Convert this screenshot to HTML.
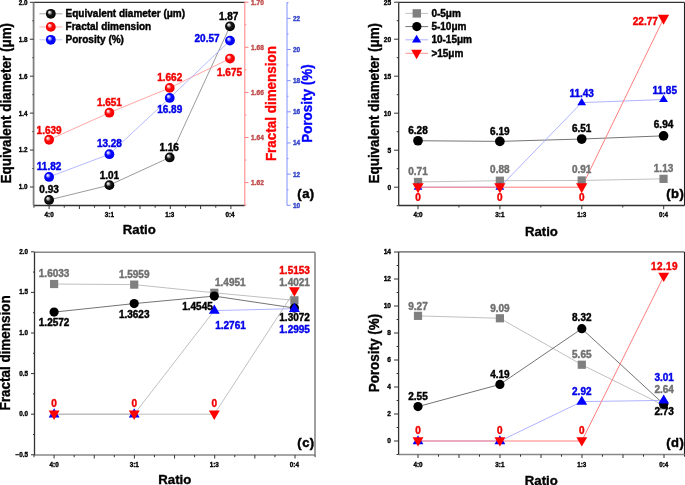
<!DOCTYPE html>
<html><head><meta charset="utf-8"><style>
html,body{margin:0;padding:0;background:#fff;width:685px;height:485px;overflow:hidden}
svg{display:block;will-change:transform}
text{font-family:"Liberation Sans",sans-serif;font-weight:bold}
</style></head><body>
<svg width="685" height="485" viewBox="0 0 685 485">
<defs>
<radialGradient id="gk" cx="0.5" cy="0.5" r="0.5" fx="0.33" fy="0.3">
<stop offset="0" stop-color="#ffffff"/><stop offset="0.2" stop-color="#c8c8c8"/><stop offset="0.5" stop-color="#181818"/><stop offset="1" stop-color="#000"/></radialGradient>
<radialGradient id="gr" cx="0.5" cy="0.5" r="0.5" fx="0.33" fy="0.3">
<stop offset="0" stop-color="#ffffff"/><stop offset="0.2" stop-color="#ffc0c0"/><stop offset="0.5" stop-color="#ff0808"/><stop offset="1" stop-color="#f00000"/></radialGradient>
<radialGradient id="gb" cx="0.5" cy="0.5" r="0.5" fx="0.33" fy="0.3">
<stop offset="0" stop-color="#ffffff"/><stop offset="0.2" stop-color="#c0c0ff"/><stop offset="0.5" stop-color="#0808ff"/><stop offset="1" stop-color="#0000f0"/></radialGradient>
</defs>
<line x1="33.60" y1="2.30" x2="244.80" y2="2.30" stroke="#333" stroke-width="1.3"/>
<line x1="33.60" y1="205.50" x2="244.80" y2="205.50" stroke="#333" stroke-width="1.3"/>
<line x1="33.95" y1="205.50" x2="33.95" y2="207.70" stroke="#333" stroke-width="1.0"/>
<line x1="49.10" y1="205.50" x2="49.10" y2="209.00" stroke="#333" stroke-width="1.0"/>
<line x1="64.25" y1="205.50" x2="64.25" y2="207.70" stroke="#333" stroke-width="1.0"/>
<line x1="79.40" y1="205.50" x2="79.40" y2="209.00" stroke="#333" stroke-width="1.0"/>
<line x1="94.55" y1="205.50" x2="94.55" y2="207.70" stroke="#333" stroke-width="1.0"/>
<line x1="109.70" y1="205.50" x2="109.70" y2="209.00" stroke="#333" stroke-width="1.0"/>
<line x1="124.85" y1="205.50" x2="124.85" y2="207.70" stroke="#333" stroke-width="1.0"/>
<line x1="140.00" y1="205.50" x2="140.00" y2="209.00" stroke="#333" stroke-width="1.0"/>
<line x1="155.15" y1="205.50" x2="155.15" y2="207.70" stroke="#333" stroke-width="1.0"/>
<line x1="170.30" y1="205.50" x2="170.30" y2="209.00" stroke="#333" stroke-width="1.0"/>
<line x1="185.45" y1="205.50" x2="185.45" y2="207.70" stroke="#333" stroke-width="1.0"/>
<line x1="200.60" y1="205.50" x2="200.60" y2="209.00" stroke="#333" stroke-width="1.0"/>
<line x1="215.75" y1="205.50" x2="215.75" y2="207.70" stroke="#333" stroke-width="1.0"/>
<line x1="230.90" y1="205.50" x2="230.90" y2="209.00" stroke="#333" stroke-width="1.0"/>
<text x="49.10" y="216.90" font-size="6.3" fill="#000" stroke="#000" stroke-width="0.35" text-anchor="middle" >4:0</text>
<text x="109.40" y="216.90" font-size="6.3" fill="#000" stroke="#000" stroke-width="0.35" text-anchor="middle" >3:1</text>
<text x="169.70" y="216.90" font-size="6.3" fill="#000" stroke="#000" stroke-width="0.35" text-anchor="middle" >1:3</text>
<text x="230.00" y="216.90" font-size="6.3" fill="#000" stroke="#000" stroke-width="0.35" text-anchor="middle" >0:4</text>
<line x1="33.60" y1="2.30" x2="33.60" y2="205.50" stroke="#808080" stroke-width="1.8"/>
<line x1="33.60" y1="187.00" x2="29.90" y2="187.00" stroke="#333" stroke-width="1.0"/>
<text x="27.60" y="189.40" font-size="6.3" fill="#000" stroke="#000" stroke-width="0.35" text-anchor="end" >1.0</text>
<line x1="33.60" y1="150.06" x2="29.90" y2="150.06" stroke="#333" stroke-width="1.0"/>
<text x="27.60" y="152.46" font-size="6.3" fill="#000" stroke="#000" stroke-width="0.35" text-anchor="end" >1.2</text>
<line x1="33.60" y1="113.12" x2="29.90" y2="113.12" stroke="#333" stroke-width="1.0"/>
<text x="27.60" y="115.52" font-size="6.3" fill="#000" stroke="#000" stroke-width="0.35" text-anchor="end" >1.4</text>
<line x1="33.60" y1="76.18" x2="29.90" y2="76.18" stroke="#333" stroke-width="1.0"/>
<text x="27.60" y="78.58" font-size="6.3" fill="#000" stroke="#000" stroke-width="0.35" text-anchor="end" >1.6</text>
<line x1="33.60" y1="39.24" x2="29.90" y2="39.24" stroke="#333" stroke-width="1.0"/>
<text x="27.60" y="41.64" font-size="6.3" fill="#000" stroke="#000" stroke-width="0.35" text-anchor="end" >1.8</text>
<line x1="33.60" y1="2.30" x2="29.90" y2="2.30" stroke="#333" stroke-width="1.0"/>
<text x="27.60" y="4.70" font-size="6.3" fill="#000" stroke="#000" stroke-width="0.35" text-anchor="end" >2.0</text>
<line x1="33.60" y1="168.53" x2="32.40" y2="168.53" stroke="#333" stroke-width="1.0"/>
<line x1="33.60" y1="131.59" x2="32.40" y2="131.59" stroke="#333" stroke-width="1.0"/>
<line x1="33.60" y1="94.65" x2="32.40" y2="94.65" stroke="#333" stroke-width="1.0"/>
<line x1="33.60" y1="57.71" x2="32.40" y2="57.71" stroke="#333" stroke-width="1.0"/>
<line x1="33.60" y1="20.77" x2="32.40" y2="20.77" stroke="#333" stroke-width="1.0"/>
<line x1="244.80" y1="2.20" x2="244.80" y2="205.50" stroke="#ff8080" stroke-width="1.0"/>
<line x1="244.80" y1="182.60" x2="248.50" y2="182.60" stroke="#ff8080" stroke-width="1.0"/>
<text x="251.10" y="185.00" font-size="6.5" fill="#c04848" stroke="#c04848" stroke-width="0.35" text-anchor="start" >1.62</text>
<line x1="244.80" y1="137.50" x2="248.50" y2="137.50" stroke="#ff8080" stroke-width="1.0"/>
<text x="251.10" y="139.90" font-size="6.5" fill="#c04848" stroke="#c04848" stroke-width="0.35" text-anchor="start" >1.64</text>
<line x1="244.80" y1="92.40" x2="248.50" y2="92.40" stroke="#ff8080" stroke-width="1.0"/>
<text x="251.10" y="94.80" font-size="6.5" fill="#c04848" stroke="#c04848" stroke-width="0.35" text-anchor="start" >1.66</text>
<line x1="244.80" y1="47.30" x2="248.50" y2="47.30" stroke="#ff8080" stroke-width="1.0"/>
<text x="251.10" y="49.70" font-size="6.5" fill="#c04848" stroke="#c04848" stroke-width="0.35" text-anchor="start" >1.68</text>
<line x1="244.80" y1="2.20" x2="248.50" y2="2.20" stroke="#ff8080" stroke-width="1.0"/>
<text x="251.10" y="4.60" font-size="6.5" fill="#c04848" stroke="#c04848" stroke-width="0.35" text-anchor="start" >1.70</text>
<line x1="244.80" y1="205.15" x2="246.30" y2="205.15" stroke="#ff8080" stroke-width="1.0"/>
<line x1="244.80" y1="160.05" x2="246.30" y2="160.05" stroke="#ff8080" stroke-width="1.0"/>
<line x1="244.80" y1="114.95" x2="246.30" y2="114.95" stroke="#ff8080" stroke-width="1.0"/>
<line x1="244.80" y1="69.85" x2="246.30" y2="69.85" stroke="#ff8080" stroke-width="1.0"/>
<line x1="244.80" y1="24.75" x2="246.30" y2="24.75" stroke="#ff8080" stroke-width="1.0"/>
<line x1="287.00" y1="2.20" x2="287.00" y2="205.50" stroke="#8090ff" stroke-width="1.0"/>
<line x1="287.00" y1="205.30" x2="290.70" y2="205.30" stroke="#8090ff" stroke-width="1.0"/>
<text x="293.00" y="207.70" font-size="6.5" fill="#3040c8" stroke="#3040c8" stroke-width="0.35" text-anchor="start" >10</text>
<line x1="287.00" y1="174.14" x2="290.70" y2="174.14" stroke="#8090ff" stroke-width="1.0"/>
<text x="293.00" y="176.54" font-size="6.5" fill="#3040c8" stroke="#3040c8" stroke-width="0.35" text-anchor="start" >12</text>
<line x1="287.00" y1="142.98" x2="290.70" y2="142.98" stroke="#8090ff" stroke-width="1.0"/>
<text x="293.00" y="145.38" font-size="6.5" fill="#3040c8" stroke="#3040c8" stroke-width="0.35" text-anchor="start" >14</text>
<line x1="287.00" y1="111.82" x2="290.70" y2="111.82" stroke="#8090ff" stroke-width="1.0"/>
<text x="293.00" y="114.22" font-size="6.5" fill="#3040c8" stroke="#3040c8" stroke-width="0.35" text-anchor="start" >16</text>
<line x1="287.00" y1="80.66" x2="290.70" y2="80.66" stroke="#8090ff" stroke-width="1.0"/>
<text x="293.00" y="83.06" font-size="6.5" fill="#3040c8" stroke="#3040c8" stroke-width="0.35" text-anchor="start" >18</text>
<line x1="287.00" y1="49.50" x2="290.70" y2="49.50" stroke="#8090ff" stroke-width="1.0"/>
<text x="293.00" y="51.90" font-size="6.5" fill="#3040c8" stroke="#3040c8" stroke-width="0.35" text-anchor="start" >20</text>
<line x1="287.00" y1="18.34" x2="290.70" y2="18.34" stroke="#8090ff" stroke-width="1.0"/>
<text x="293.00" y="20.74" font-size="6.5" fill="#3040c8" stroke="#3040c8" stroke-width="0.35" text-anchor="start" >22</text>
<line x1="287.00" y1="189.72" x2="288.50" y2="189.72" stroke="#8090ff" stroke-width="1.0"/>
<line x1="287.00" y1="158.56" x2="288.50" y2="158.56" stroke="#8090ff" stroke-width="1.0"/>
<line x1="287.00" y1="127.40" x2="288.50" y2="127.40" stroke="#8090ff" stroke-width="1.0"/>
<line x1="287.00" y1="96.24" x2="288.50" y2="96.24" stroke="#8090ff" stroke-width="1.0"/>
<line x1="287.00" y1="65.08" x2="288.50" y2="65.08" stroke="#8090ff" stroke-width="1.0"/>
<line x1="287.00" y1="33.92" x2="288.50" y2="33.92" stroke="#8090ff" stroke-width="1.0"/>
<line x1="287.00" y1="2.76" x2="288.50" y2="2.76" stroke="#8090ff" stroke-width="1.0"/>
<text transform="translate(11.20,103.20) rotate(-90) scale(1,1.05)" font-size="13.45" fill="#000" stroke="#000" stroke-width="0.35" text-anchor="middle">Equivalent diameter (μm)</text>
<text transform="translate(276.20,103.60) rotate(-90) scale(1,1.05)" font-size="13.45" fill="#ff0000" stroke="#ff0000" stroke-width="0.35" text-anchor="middle">Fractal dimension</text>
<text transform="translate(312.30,103.60) rotate(-90) scale(1,1.05)" font-size="13.45" fill="#0000ff" stroke="#0000ff" stroke-width="0.35" text-anchor="middle">Porosity (%)</text>
<text x="139.30" y="234.30" font-size="13.2" fill="#000" stroke="#000" stroke-width="0.35" text-anchor="middle" >Ratio</text>
<text x="306.00" y="198.20" font-size="13" fill="#000" stroke="#000" stroke-width="0.45" text-anchor="middle" letter-spacing="0.5">(a)</text>
<polyline points="49.10,199.93 109.40,185.15 169.70,157.45 230.00,26.31" fill="none" stroke="#707070" stroke-width="0.7"/>
<polyline points="49.10,139.75 109.40,112.69 169.70,87.89 230.00,58.57" fill="none" stroke="#ff9090" stroke-width="0.8"/>
<polyline points="49.10,176.94 109.40,154.20 169.70,97.95 230.00,40.62" fill="none" stroke="#a0a8ff" stroke-width="0.8"/>
<circle cx="49.10" cy="139.75" r="4.9" fill="url(#gr)"/>
<circle cx="109.40" cy="112.69" r="4.9" fill="url(#gr)"/>
<circle cx="169.70" cy="87.89" r="4.9" fill="url(#gr)"/>
<circle cx="230.00" cy="58.57" r="4.9" fill="url(#gr)"/>
<circle cx="49.10" cy="176.94" r="4.9" fill="url(#gb)"/>
<circle cx="109.40" cy="154.20" r="4.9" fill="url(#gb)"/>
<circle cx="169.70" cy="97.95" r="4.9" fill="url(#gb)"/>
<circle cx="230.00" cy="40.62" r="4.9" fill="url(#gb)"/>
<circle cx="49.10" cy="199.93" r="4.9" fill="url(#gk)"/>
<circle cx="109.40" cy="185.15" r="4.9" fill="url(#gk)"/>
<circle cx="169.70" cy="157.45" r="4.9" fill="url(#gk)"/>
<circle cx="230.00" cy="26.31" r="4.9" fill="url(#gk)"/>
<text x="49.10" y="192.70" font-size="10" fill="#000" stroke="#000" stroke-width="0.42" text-anchor="middle" >0.93</text>
<text x="109.40" y="178.80" font-size="10" fill="#000" stroke="#000" stroke-width="0.42" text-anchor="middle" >1.01</text>
<text x="169.20" y="151.20" font-size="10" fill="#000" stroke="#000" stroke-width="0.42" text-anchor="middle" >1.16</text>
<text x="228.70" y="19.70" font-size="10" fill="#000" stroke="#000" stroke-width="0.42" text-anchor="middle" >1.87</text>
<text x="49.10" y="133.60" font-size="10" fill="#f00000" stroke="#f00000" stroke-width="0.42" text-anchor="middle" >1.639</text>
<text x="109.40" y="105.80" font-size="10" fill="#f00000" stroke="#f00000" stroke-width="0.42" text-anchor="middle" >1.651</text>
<text x="169.70" y="80.90" font-size="10" fill="#f00000" stroke="#f00000" stroke-width="0.42" text-anchor="middle" >1.662</text>
<text x="217.00" y="76.20" font-size="10" fill="#f00000" stroke="#f00000" stroke-width="0.42" text-anchor="start" >1.675</text>
<text x="49.10" y="170.20" font-size="10" fill="#0000e8" stroke="#0000e8" stroke-width="0.42" text-anchor="middle" >11.82</text>
<text x="109.40" y="147.30" font-size="10" fill="#0000e8" stroke="#0000e8" stroke-width="0.42" text-anchor="middle" >13.28</text>
<text x="169.70" y="112.50" font-size="10" fill="#0000e8" stroke="#0000e8" stroke-width="0.42" text-anchor="middle" >16.89</text>
<text x="219.60" y="42.00" font-size="10" fill="#0000e8" stroke="#0000e8" stroke-width="0.42" text-anchor="end" >20.57</text>
<line x1="39.40" y1="13.80" x2="62.40" y2="13.80" stroke="#909090" stroke-width="0.8"/>
<circle cx="50.80" cy="13.80" r="4.9" fill="url(#gk)"/>
<text x="65.60" y="17.00" font-size="10" fill="#000" stroke="#000" stroke-width="0.42" text-anchor="start" >Equivalent diameter (μm)</text>
<line x1="39.40" y1="26.90" x2="62.40" y2="26.90" stroke="#ffa0a0" stroke-width="0.8"/>
<circle cx="50.80" cy="26.90" r="4.9" fill="url(#gr)"/>
<text x="65.60" y="30.10" font-size="10" fill="#000" stroke="#000" stroke-width="0.42" text-anchor="start" >Fractal dimension</text>
<line x1="39.40" y1="39.80" x2="62.40" y2="39.80" stroke="#b0b8ff" stroke-width="0.8"/>
<circle cx="50.80" cy="39.80" r="4.9" fill="url(#gb)"/>
<text x="65.60" y="43.00" font-size="10" fill="#000" stroke="#000" stroke-width="0.42" text-anchor="start" >Porosity (%)</text>
<line x1="398.70" y1="2.40" x2="684.50" y2="2.40" stroke="#333" stroke-width="1.3"/>
<line x1="684.50" y1="2.40" x2="684.50" y2="205.50" stroke="#222" stroke-width="1.1"/>
<line x1="398.70" y1="205.50" x2="684.50" y2="205.50" stroke="#333" stroke-width="1.3"/>
<line x1="418.00" y1="205.50" x2="418.00" y2="209.30" stroke="#333" stroke-width="1.0"/>
<line x1="458.95" y1="205.50" x2="458.95" y2="207.50" stroke="#333" stroke-width="1.0"/>
<line x1="499.90" y1="205.50" x2="499.90" y2="209.30" stroke="#333" stroke-width="1.0"/>
<line x1="540.85" y1="205.50" x2="540.85" y2="207.50" stroke="#333" stroke-width="1.0"/>
<line x1="581.80" y1="205.50" x2="581.80" y2="209.30" stroke="#333" stroke-width="1.0"/>
<line x1="622.75" y1="205.50" x2="622.75" y2="207.50" stroke="#333" stroke-width="1.0"/>
<line x1="663.70" y1="205.50" x2="663.70" y2="209.30" stroke="#333" stroke-width="1.0"/>
<text x="418.00" y="217.10" font-size="6.3" fill="#000" stroke="#000" stroke-width="0.35" text-anchor="middle" >4:0</text>
<text x="499.85" y="217.10" font-size="6.3" fill="#000" stroke="#000" stroke-width="0.35" text-anchor="middle" >3:1</text>
<text x="581.70" y="217.10" font-size="6.3" fill="#000" stroke="#000" stroke-width="0.35" text-anchor="middle" >1:3</text>
<text x="663.55" y="217.10" font-size="6.3" fill="#000" stroke="#000" stroke-width="0.35" text-anchor="middle" >0:4</text>
<line x1="398.70" y1="2.40" x2="398.70" y2="205.50" stroke="#333" stroke-width="1.3"/>
<line x1="398.70" y1="187.20" x2="394.10" y2="187.20" stroke="#333" stroke-width="1.0"/>
<text x="391.10" y="189.60" font-size="6.6" fill="#000" stroke="#000" stroke-width="0.35" text-anchor="end" >0</text>
<line x1="398.70" y1="150.20" x2="394.10" y2="150.20" stroke="#333" stroke-width="1.0"/>
<text x="391.10" y="152.60" font-size="6.6" fill="#000" stroke="#000" stroke-width="0.35" text-anchor="end" >5</text>
<line x1="398.70" y1="113.20" x2="394.10" y2="113.20" stroke="#333" stroke-width="1.0"/>
<text x="391.10" y="115.60" font-size="6.6" fill="#000" stroke="#000" stroke-width="0.35" text-anchor="end" >10</text>
<line x1="398.70" y1="76.20" x2="394.10" y2="76.20" stroke="#333" stroke-width="1.0"/>
<text x="391.10" y="78.60" font-size="6.6" fill="#000" stroke="#000" stroke-width="0.35" text-anchor="end" >15</text>
<line x1="398.70" y1="39.20" x2="394.10" y2="39.20" stroke="#333" stroke-width="1.0"/>
<text x="391.10" y="41.60" font-size="6.6" fill="#000" stroke="#000" stroke-width="0.35" text-anchor="end" >20</text>
<line x1="398.70" y1="2.20" x2="394.10" y2="2.20" stroke="#333" stroke-width="1.0"/>
<text x="391.10" y="4.60" font-size="6.6" fill="#000" stroke="#000" stroke-width="0.35" text-anchor="end" >25</text>
<line x1="398.70" y1="205.70" x2="396.70" y2="205.70" stroke="#333" stroke-width="1.0"/>
<line x1="398.70" y1="168.70" x2="396.70" y2="168.70" stroke="#333" stroke-width="1.0"/>
<line x1="398.70" y1="131.70" x2="396.70" y2="131.70" stroke="#333" stroke-width="1.0"/>
<line x1="398.70" y1="94.70" x2="396.70" y2="94.70" stroke="#333" stroke-width="1.0"/>
<line x1="398.70" y1="57.70" x2="396.70" y2="57.70" stroke="#333" stroke-width="1.0"/>
<line x1="398.70" y1="20.70" x2="396.70" y2="20.70" stroke="#333" stroke-width="1.0"/>
<text transform="translate(378.80,103.20) rotate(-90) scale(1,1.05)" font-size="13.45" fill="#000" stroke="#000" stroke-width="0.35" text-anchor="middle">Equivalent diameter (μm)</text>
<text x="541.40" y="235.60" font-size="13.2" fill="#000" stroke="#000" stroke-width="0.35" text-anchor="middle" >Ratio</text>
<text x="675.30" y="197.80" font-size="13" fill="#000" stroke="#000" stroke-width="0.45" text-anchor="middle" letter-spacing="0.5">(b)</text>
<polyline points="418.00,181.95 499.85,180.69 581.70,180.47 663.55,178.84" fill="none" stroke="#b0b0b0" stroke-width="0.8"/>
<polyline points="418.00,140.73 499.85,141.39 581.70,139.03 663.55,135.84" fill="none" stroke="#505050" stroke-width="0.8"/>
<polyline points="418.00,187.20 499.85,187.20 581.70,102.62 663.55,99.51" fill="none" stroke="#9aa0ff" stroke-width="0.8"/>
<polyline points="418.00,187.20 499.85,187.20 581.70,187.20 663.55,18.70" fill="none" stroke="#ff7878" stroke-width="0.95"/>
<rect x="413.90" y="177.85" width="8.2" height="8.2" fill="#808080"/>
<rect x="495.75" y="176.59" width="8.2" height="8.2" fill="#808080"/>
<rect x="577.60" y="176.37" width="8.2" height="8.2" fill="#808080"/>
<rect x="659.45" y="174.74" width="8.2" height="8.2" fill="#808080"/>
<circle cx="418.00" cy="140.73" r="4.85" fill="#000"/>
<circle cx="499.85" cy="141.39" r="4.85" fill="#000"/>
<circle cx="581.70" cy="139.03" r="4.85" fill="#000"/>
<circle cx="663.55" cy="135.84" r="4.85" fill="#000"/>
<polygon points="418.00,182.52 422.40,189.72 413.60,189.72" fill="#0000ff"/>
<polygon points="499.85,182.52 504.25,189.72 495.45,189.72" fill="#0000ff"/>
<polygon points="581.70,97.94 586.10,105.14 577.30,105.14" fill="#0000ff"/>
<polygon points="663.55,94.83 667.95,102.03 659.15,102.03" fill="#0000ff"/>
<polygon points="412.40,183.20 423.60,183.20 418.00,193.20" fill="#ff0000"/>
<polygon points="494.25,183.20 505.45,183.20 499.85,193.20" fill="#ff0000"/>
<polygon points="576.10,183.20 587.30,183.20 581.70,193.20" fill="#ff0000"/>
<polygon points="657.95,14.70 669.15,14.70 663.55,24.70" fill="#ff0000"/>
<text x="418.00" y="133.60" font-size="10" fill="#000" stroke="#000" stroke-width="0.42" text-anchor="middle" >6.28</text>
<text x="499.85" y="135.00" font-size="10" fill="#000" stroke="#000" stroke-width="0.42" text-anchor="middle" >6.19</text>
<text x="581.70" y="132.10" font-size="10" fill="#000" stroke="#000" stroke-width="0.42" text-anchor="middle" >6.51</text>
<text x="663.55" y="128.10" font-size="10" fill="#000" stroke="#000" stroke-width="0.42" text-anchor="middle" >6.94</text>
<text x="418.00" y="174.90" font-size="10" fill="#707070" stroke="#707070" stroke-width="0.42" text-anchor="middle" >0.71</text>
<text x="499.85" y="172.80" font-size="10" fill="#707070" stroke="#707070" stroke-width="0.42" text-anchor="middle" >0.88</text>
<text x="581.70" y="173.00" font-size="10" fill="#707070" stroke="#707070" stroke-width="0.42" text-anchor="middle" >0.91</text>
<text x="663.55" y="171.50" font-size="10" fill="#707070" stroke="#707070" stroke-width="0.42" text-anchor="middle" >1.13</text>
<text x="418.00" y="200.80" font-size="10" fill="#f00000" stroke="#f00000" stroke-width="0.42" text-anchor="middle" >0</text>
<text x="499.85" y="200.80" font-size="10" fill="#f00000" stroke="#f00000" stroke-width="0.42" text-anchor="middle" >0</text>
<text x="581.70" y="200.80" font-size="10" fill="#f00000" stroke="#f00000" stroke-width="0.42" text-anchor="middle" >0</text>
<text x="581.70" y="96.70" font-size="10" fill="#0000e8" stroke="#0000e8" stroke-width="0.42" text-anchor="middle" >11.43</text>
<text x="664.75" y="94.10" font-size="10" fill="#0000e8" stroke="#0000e8" stroke-width="0.42" text-anchor="middle" >11.85</text>
<text x="657.80" y="25.40" font-size="10" fill="#f00000" stroke="#f00000" stroke-width="0.42" text-anchor="end" >22.77</text>
<line x1="405.40" y1="13.40" x2="428.20" y2="13.40" stroke="#b0b0b0" stroke-width="0.8"/>
<rect x="412.60" y="9.20" width="8.4" height="8.4" fill="#808080"/>
<text x="431.40" y="17.00" font-size="10" fill="#000" stroke="#000" stroke-width="0.42" text-anchor="start" >0-5μm</text>
<line x1="405.40" y1="26.60" x2="428.20" y2="26.60" stroke="#505050" stroke-width="0.8"/>
<circle cx="416.80" cy="26.60" r="4.6" fill="#000"/>
<text x="431.40" y="30.20" font-size="10" fill="#000" stroke="#000" stroke-width="0.42" text-anchor="start" >5-10μm</text>
<line x1="405.40" y1="39.80" x2="428.20" y2="39.80" stroke="#9aa0ff" stroke-width="0.8"/>
<polygon points="416.60,34.86 421.20,42.46 412.00,42.46" fill="#0000ff"/>
<text x="431.40" y="43.40" font-size="10" fill="#000" stroke="#000" stroke-width="0.42" text-anchor="start" >10-15μm</text>
<line x1="405.40" y1="53.30" x2="428.20" y2="53.30" stroke="#ff7878" stroke-width="0.8"/>
<polygon points="411.20,49.84 422.00,49.84 416.60,59.24" fill="#ff0000"/>
<text x="431.40" y="56.90" font-size="10" fill="#000" stroke="#000" stroke-width="0.42" text-anchor="start" >&gt;15μm</text>
<line x1="34.50" y1="252.20" x2="315.00" y2="252.20" stroke="#888" stroke-width="1.6"/>
<line x1="315.00" y1="252.20" x2="315.00" y2="455.00" stroke="#888" stroke-width="1.6"/>
<line x1="34.50" y1="455.00" x2="315.00" y2="455.00" stroke="#888" stroke-width="1.6"/>
<line x1="34.03" y1="455.00" x2="34.03" y2="457.20" stroke="#333" stroke-width="1.0"/>
<line x1="54.10" y1="455.00" x2="54.10" y2="458.50" stroke="#333" stroke-width="1.0"/>
<line x1="74.17" y1="455.00" x2="74.17" y2="457.20" stroke="#333" stroke-width="1.0"/>
<line x1="94.25" y1="455.00" x2="94.25" y2="458.50" stroke="#333" stroke-width="1.0"/>
<line x1="114.32" y1="455.00" x2="114.32" y2="457.20" stroke="#333" stroke-width="1.0"/>
<line x1="134.40" y1="455.00" x2="134.40" y2="458.50" stroke="#333" stroke-width="1.0"/>
<line x1="154.47" y1="455.00" x2="154.47" y2="457.20" stroke="#333" stroke-width="1.0"/>
<line x1="174.55" y1="455.00" x2="174.55" y2="458.50" stroke="#333" stroke-width="1.0"/>
<line x1="194.62" y1="455.00" x2="194.62" y2="457.20" stroke="#333" stroke-width="1.0"/>
<line x1="214.70" y1="455.00" x2="214.70" y2="458.50" stroke="#333" stroke-width="1.0"/>
<line x1="234.77" y1="455.00" x2="234.77" y2="457.20" stroke="#333" stroke-width="1.0"/>
<line x1="254.85" y1="455.00" x2="254.85" y2="458.50" stroke="#333" stroke-width="1.0"/>
<line x1="274.93" y1="455.00" x2="274.93" y2="457.20" stroke="#333" stroke-width="1.0"/>
<line x1="295.00" y1="455.00" x2="295.00" y2="458.50" stroke="#333" stroke-width="1.0"/>
<line x1="315.07" y1="455.00" x2="315.07" y2="457.20" stroke="#333" stroke-width="1.0"/>
<text x="54.10" y="466.70" font-size="6.3" fill="#000" stroke="#000" stroke-width="0.35" text-anchor="middle" >4:0</text>
<text x="134.20" y="466.70" font-size="6.3" fill="#000" stroke="#000" stroke-width="0.35" text-anchor="middle" >3:1</text>
<text x="214.30" y="466.70" font-size="6.3" fill="#000" stroke="#000" stroke-width="0.35" text-anchor="middle" >1:3</text>
<text x="294.40" y="466.70" font-size="6.3" fill="#000" stroke="#000" stroke-width="0.35" text-anchor="middle" >0:4</text>
<line x1="34.50" y1="252.20" x2="34.50" y2="455.00" stroke="#333" stroke-width="1.3"/>
<line x1="34.50" y1="454.80" x2="31.00" y2="454.80" stroke="#333" stroke-width="1.0"/>
<text x="28.00" y="456.70" font-size="6.3" fill="#000" stroke="#000" stroke-width="0.35" text-anchor="end" >−0.5</text>
<line x1="34.50" y1="414.20" x2="31.00" y2="414.20" stroke="#333" stroke-width="1.0"/>
<text x="28.00" y="416.10" font-size="6.3" fill="#000" stroke="#000" stroke-width="0.35" text-anchor="end" >0.0</text>
<line x1="34.50" y1="373.60" x2="31.00" y2="373.60" stroke="#333" stroke-width="1.0"/>
<text x="28.00" y="375.50" font-size="6.3" fill="#000" stroke="#000" stroke-width="0.35" text-anchor="end" >0.5</text>
<line x1="34.50" y1="333.00" x2="31.00" y2="333.00" stroke="#333" stroke-width="1.0"/>
<text x="28.00" y="334.90" font-size="6.3" fill="#000" stroke="#000" stroke-width="0.35" text-anchor="end" >1.0</text>
<line x1="34.50" y1="292.40" x2="31.00" y2="292.40" stroke="#333" stroke-width="1.0"/>
<text x="28.00" y="294.30" font-size="6.3" fill="#000" stroke="#000" stroke-width="0.35" text-anchor="end" >1.5</text>
<line x1="34.50" y1="251.80" x2="31.00" y2="251.80" stroke="#333" stroke-width="1.0"/>
<text x="28.00" y="253.70" font-size="6.3" fill="#000" stroke="#000" stroke-width="0.35" text-anchor="end" >2.0</text>
<line x1="34.50" y1="434.50" x2="33.00" y2="434.50" stroke="#333" stroke-width="1.0"/>
<line x1="34.50" y1="393.90" x2="33.00" y2="393.90" stroke="#333" stroke-width="1.0"/>
<line x1="34.50" y1="353.30" x2="33.00" y2="353.30" stroke="#333" stroke-width="1.0"/>
<line x1="34.50" y1="312.70" x2="33.00" y2="312.70" stroke="#333" stroke-width="1.0"/>
<line x1="34.50" y1="272.10" x2="33.00" y2="272.10" stroke="#333" stroke-width="1.0"/>
<text transform="translate(10.20,352.90) rotate(-90) scale(1,1.05)" font-size="13.45" fill="#000" stroke="#000" stroke-width="0.35" text-anchor="middle">Fractal dimension</text>
<text x="174.80" y="483.80" font-size="13.2" fill="#000" stroke="#000" stroke-width="0.35" text-anchor="middle" >Ratio</text>
<text x="306.00" y="446.80" font-size="13" fill="#000" stroke="#000" stroke-width="0.45" text-anchor="middle" letter-spacing="0.5">(c)</text>
<polyline points="54.10,284.01 134.20,284.61 214.30,292.80 294.40,300.35" fill="none" stroke="#b0b0b0" stroke-width="0.8"/>
<polyline points="54.10,312.12 134.20,303.58 214.30,296.09 294.40,308.06" fill="none" stroke="#505050" stroke-width="0.8"/>
<polyline points="54.10,414.20 134.20,414.20 214.30,310.58" fill="none" stroke="#b0b0b0" stroke-width="0.8"/>
<polyline points="214.30,310.58 294.40,308.68" fill="none" stroke="#9aa0ff" stroke-width="0.8"/>
<polyline points="54.10,414.20 134.20,414.20 214.30,414.20 294.40,291.16" fill="none" stroke="#b0b0b0" stroke-width="0.8"/>
<rect x="50.00" y="279.91" width="8.2" height="8.2" fill="#808080"/>
<rect x="130.10" y="280.51" width="8.2" height="8.2" fill="#808080"/>
<rect x="210.20" y="288.70" width="8.2" height="8.2" fill="#808080"/>
<rect x="290.30" y="296.25" width="8.2" height="8.2" fill="#808080"/>
<circle cx="54.10" cy="312.12" r="4.6" fill="#000"/>
<circle cx="134.20" cy="303.58" r="4.6" fill="#000"/>
<circle cx="214.30" cy="296.09" r="4.6" fill="#000"/>
<circle cx="294.40" cy="308.06" r="4.6" fill="#000"/>
<polygon points="54.10,408.22 59.50,417.42 48.70,417.42" fill="#0000ff"/>
<polygon points="134.20,408.22 139.60,417.42 128.80,417.42" fill="#0000ff"/>
<polygon points="214.30,304.60 219.70,313.80 208.90,313.80" fill="#0000ff"/>
<polygon points="294.40,302.70 299.80,311.90 289.00,311.90" fill="#0000ff"/>
<polygon points="48.65,410.40 59.55,410.40 54.10,419.90" fill="#ff0000"/>
<polygon points="128.75,410.40 139.65,410.40 134.20,419.90" fill="#ff0000"/>
<polygon points="208.85,410.40 219.75,410.40 214.30,419.90" fill="#ff0000"/>
<polygon points="288.95,287.36 299.85,287.36 294.40,296.86" fill="#ff0000"/>
<text x="54.10" y="276.80" font-size="10" fill="#707070" stroke="#707070" stroke-width="0.42" text-anchor="middle" >1.6033</text>
<text x="134.20" y="277.60" font-size="10" fill="#707070" stroke="#707070" stroke-width="0.42" text-anchor="middle" >1.5959</text>
<text x="230.30" y="286.00" font-size="10" fill="#707070" stroke="#707070" stroke-width="0.42" text-anchor="middle" >1.4951</text>
<text x="294.60" y="286.00" font-size="10" fill="#707070" stroke="#707070" stroke-width="0.42" text-anchor="middle" >1.4021</text>
<text x="54.10" y="326.20" font-size="10" fill="#000" stroke="#000" stroke-width="0.42" text-anchor="middle" >1.2572</text>
<text x="134.20" y="317.50" font-size="10" fill="#000" stroke="#000" stroke-width="0.42" text-anchor="middle" >1.3623</text>
<text x="197.50" y="310.40" font-size="10" fill="#000" stroke="#000" stroke-width="0.42" text-anchor="middle" >1.4545</text>
<text x="294.60" y="320.90" font-size="10" fill="#000" stroke="#000" stroke-width="0.42" text-anchor="middle" >1.3072</text>
<text x="230.50" y="329.30" font-size="10" fill="#0000e8" stroke="#0000e8" stroke-width="0.42" text-anchor="middle" >1.2761</text>
<text x="294.60" y="333.30" font-size="10" fill="#0000e8" stroke="#0000e8" stroke-width="0.42" text-anchor="middle" >1.2995</text>
<text x="294.60" y="274.20" font-size="10" fill="#f00000" stroke="#f00000" stroke-width="0.42" text-anchor="middle" >1.5153</text>
<text x="54.10" y="407.30" font-size="10" fill="#f00000" stroke="#f00000" stroke-width="0.42" text-anchor="middle" >0</text>
<text x="134.20" y="407.30" font-size="10" fill="#f00000" stroke="#f00000" stroke-width="0.42" text-anchor="middle" >0</text>
<text x="214.30" y="407.30" font-size="10" fill="#f00000" stroke="#f00000" stroke-width="0.42" text-anchor="middle" >0</text>
<line x1="398.60" y1="251.90" x2="684.50" y2="251.90" stroke="#888" stroke-width="1.6"/>
<line x1="684.50" y1="251.90" x2="684.50" y2="454.50" stroke="#222" stroke-width="1.1"/>
<line x1="398.60" y1="454.50" x2="684.50" y2="454.50" stroke="#888" stroke-width="1.6"/>
<line x1="418.00" y1="454.50" x2="418.00" y2="458.00" stroke="#333" stroke-width="1.0"/>
<line x1="438.50" y1="454.50" x2="438.50" y2="456.70" stroke="#333" stroke-width="1.0"/>
<line x1="459.00" y1="454.50" x2="459.00" y2="458.00" stroke="#333" stroke-width="1.0"/>
<line x1="479.50" y1="454.50" x2="479.50" y2="456.70" stroke="#333" stroke-width="1.0"/>
<line x1="500.00" y1="454.50" x2="500.00" y2="458.00" stroke="#333" stroke-width="1.0"/>
<line x1="520.50" y1="454.50" x2="520.50" y2="456.70" stroke="#333" stroke-width="1.0"/>
<line x1="541.00" y1="454.50" x2="541.00" y2="458.00" stroke="#333" stroke-width="1.0"/>
<line x1="561.50" y1="454.50" x2="561.50" y2="456.70" stroke="#333" stroke-width="1.0"/>
<line x1="582.00" y1="454.50" x2="582.00" y2="458.00" stroke="#333" stroke-width="1.0"/>
<line x1="602.50" y1="454.50" x2="602.50" y2="456.70" stroke="#333" stroke-width="1.0"/>
<line x1="623.00" y1="454.50" x2="623.00" y2="458.00" stroke="#333" stroke-width="1.0"/>
<line x1="643.50" y1="454.50" x2="643.50" y2="456.70" stroke="#333" stroke-width="1.0"/>
<line x1="664.00" y1="454.50" x2="664.00" y2="458.00" stroke="#333" stroke-width="1.0"/>
<line x1="684.50" y1="454.50" x2="684.50" y2="456.70" stroke="#333" stroke-width="1.0"/>
<text x="418.00" y="466.50" font-size="6.3" fill="#000" stroke="#000" stroke-width="0.35" text-anchor="middle" >4:0</text>
<text x="499.90" y="466.50" font-size="6.3" fill="#000" stroke="#000" stroke-width="0.35" text-anchor="middle" >3:1</text>
<text x="581.80" y="466.50" font-size="6.3" fill="#000" stroke="#000" stroke-width="0.35" text-anchor="middle" >1:3</text>
<text x="663.70" y="466.50" font-size="6.3" fill="#000" stroke="#000" stroke-width="0.35" text-anchor="middle" >0:4</text>
<line x1="398.60" y1="251.90" x2="398.60" y2="454.50" stroke="#333" stroke-width="1.3"/>
<line x1="398.60" y1="441.00" x2="394.00" y2="441.00" stroke="#333" stroke-width="1.0"/>
<text x="391.00" y="443.40" font-size="6.6" fill="#000" stroke="#000" stroke-width="0.35" text-anchor="end" >0</text>
<line x1="398.60" y1="414.00" x2="394.00" y2="414.00" stroke="#333" stroke-width="1.0"/>
<text x="391.00" y="416.40" font-size="6.6" fill="#000" stroke="#000" stroke-width="0.35" text-anchor="end" >2</text>
<line x1="398.60" y1="387.00" x2="394.00" y2="387.00" stroke="#333" stroke-width="1.0"/>
<text x="391.00" y="389.40" font-size="6.6" fill="#000" stroke="#000" stroke-width="0.35" text-anchor="end" >4</text>
<line x1="398.60" y1="360.00" x2="394.00" y2="360.00" stroke="#333" stroke-width="1.0"/>
<text x="391.00" y="362.40" font-size="6.6" fill="#000" stroke="#000" stroke-width="0.35" text-anchor="end" >6</text>
<line x1="398.60" y1="333.00" x2="394.00" y2="333.00" stroke="#333" stroke-width="1.0"/>
<text x="391.00" y="335.40" font-size="6.6" fill="#000" stroke="#000" stroke-width="0.35" text-anchor="end" >8</text>
<line x1="398.60" y1="306.00" x2="394.00" y2="306.00" stroke="#333" stroke-width="1.0"/>
<text x="391.00" y="308.40" font-size="6.6" fill="#000" stroke="#000" stroke-width="0.35" text-anchor="end" >10</text>
<line x1="398.60" y1="279.00" x2="394.00" y2="279.00" stroke="#333" stroke-width="1.0"/>
<text x="391.00" y="281.40" font-size="6.6" fill="#000" stroke="#000" stroke-width="0.35" text-anchor="end" >12</text>
<line x1="398.60" y1="252.00" x2="394.00" y2="252.00" stroke="#333" stroke-width="1.0"/>
<text x="391.00" y="254.40" font-size="6.6" fill="#000" stroke="#000" stroke-width="0.35" text-anchor="end" >14</text>
<line x1="398.60" y1="454.50" x2="396.60" y2="454.50" stroke="#333" stroke-width="1.0"/>
<line x1="398.60" y1="427.50" x2="396.60" y2="427.50" stroke="#333" stroke-width="1.0"/>
<line x1="398.60" y1="400.50" x2="396.60" y2="400.50" stroke="#333" stroke-width="1.0"/>
<line x1="398.60" y1="373.50" x2="396.60" y2="373.50" stroke="#333" stroke-width="1.0"/>
<line x1="398.60" y1="346.50" x2="396.60" y2="346.50" stroke="#333" stroke-width="1.0"/>
<line x1="398.60" y1="319.50" x2="396.60" y2="319.50" stroke="#333" stroke-width="1.0"/>
<line x1="398.60" y1="292.50" x2="396.60" y2="292.50" stroke="#333" stroke-width="1.0"/>
<line x1="398.60" y1="265.50" x2="396.60" y2="265.50" stroke="#333" stroke-width="1.0"/>
<text transform="translate(378.90,353.10) rotate(-90) scale(1,1.05)" font-size="13.45" fill="#000" stroke="#000" stroke-width="0.35" text-anchor="middle">Porosity (%)</text>
<text x="541.30" y="484.80" font-size="13.2" fill="#000" stroke="#000" stroke-width="0.35" text-anchor="middle" >Ratio</text>
<text x="675.30" y="446.80" font-size="13" fill="#000" stroke="#000" stroke-width="0.45" text-anchor="middle" letter-spacing="0.5">(d)</text>
<polyline points="418.00,315.86 499.90,318.28 581.80,364.73 663.70,405.36" fill="none" stroke="#b0b0b0" stroke-width="0.8"/>
<polyline points="418.00,406.57 499.90,384.44 581.80,328.68 663.70,404.14" fill="none" stroke="#505050" stroke-width="0.8"/>
<polyline points="418.00,441.00 499.90,441.00 581.80,401.58 663.70,400.37" fill="none" stroke="#9aa0ff" stroke-width="0.8"/>
<polyline points="418.00,441.00 499.90,441.00 581.80,441.00 663.70,276.44" fill="none" stroke="#ff7878" stroke-width="0.95"/>
<rect x="413.90" y="311.75" width="8.2" height="8.2" fill="#808080"/>
<rect x="495.80" y="314.18" width="8.2" height="8.2" fill="#808080"/>
<rect x="577.70" y="360.62" width="8.2" height="8.2" fill="#808080"/>
<rect x="659.60" y="401.26" width="8.2" height="8.2" fill="#808080"/>
<circle cx="418.00" cy="406.57" r="4.6" fill="#000"/>
<circle cx="499.90" cy="384.44" r="4.6" fill="#000"/>
<circle cx="581.80" cy="328.68" r="4.6" fill="#000"/>
<circle cx="663.70" cy="404.14" r="4.6" fill="#000"/>
<polygon points="418.00,435.15 423.40,444.15 412.60,444.15" fill="#0000ff"/>
<polygon points="499.90,435.15 505.30,444.15 494.50,444.15" fill="#0000ff"/>
<polygon points="581.80,395.73 587.20,404.73 576.40,404.73" fill="#0000ff"/>
<polygon points="663.70,394.51 669.10,403.51 658.30,403.51" fill="#0000ff"/>
<polygon points="412.55,437.28 423.45,437.28 418.00,446.58" fill="#ff0000"/>
<polygon points="494.45,437.28 505.35,437.28 499.90,446.58" fill="#ff0000"/>
<polygon points="576.35,437.28 587.25,437.28 581.80,446.58" fill="#ff0000"/>
<polygon points="658.25,272.71 669.15,272.71 663.70,282.01" fill="#ff0000"/>
<text x="418.00" y="309.60" font-size="10" fill="#707070" stroke="#707070" stroke-width="0.42" text-anchor="middle" >9.27</text>
<text x="499.90" y="311.50" font-size="10" fill="#707070" stroke="#707070" stroke-width="0.42" text-anchor="middle" >9.09</text>
<text x="581.80" y="357.90" font-size="10" fill="#707070" stroke="#707070" stroke-width="0.42" text-anchor="middle" >5.65</text>
<text x="664.20" y="393.20" font-size="10" fill="#707070" stroke="#707070" stroke-width="0.42" text-anchor="middle" >2.64</text>
<text x="418.00" y="399.80" font-size="10" fill="#000" stroke="#000" stroke-width="0.42" text-anchor="middle" >2.55</text>
<text x="499.90" y="378.00" font-size="10" fill="#000" stroke="#000" stroke-width="0.42" text-anchor="middle" >4.19</text>
<text x="581.80" y="321.40" font-size="10" fill="#000" stroke="#000" stroke-width="0.42" text-anchor="middle" >8.32</text>
<text x="664.20" y="414.80" font-size="10" fill="#000" stroke="#000" stroke-width="0.42" text-anchor="middle" >2.73</text>
<text x="581.80" y="395.30" font-size="10" fill="#0000e8" stroke="#0000e8" stroke-width="0.42" text-anchor="middle" >2.92</text>
<text x="664.20" y="381.30" font-size="10" fill="#0000e8" stroke="#0000e8" stroke-width="0.42" text-anchor="middle" >3.01</text>
<text x="664.50" y="269.60" font-size="10" fill="#f00000" stroke="#f00000" stroke-width="0.42" text-anchor="middle" letter-spacing="0.4">12.19</text>
<text x="418.00" y="434.20" font-size="10" fill="#f00000" stroke="#f00000" stroke-width="0.42" text-anchor="middle" >0</text>
<text x="499.90" y="434.20" font-size="10" fill="#f00000" stroke="#f00000" stroke-width="0.42" text-anchor="middle" >0</text>
<text x="581.80" y="434.20" font-size="10" fill="#f00000" stroke="#f00000" stroke-width="0.42" text-anchor="middle" >0</text>
</svg>
</body></html>
